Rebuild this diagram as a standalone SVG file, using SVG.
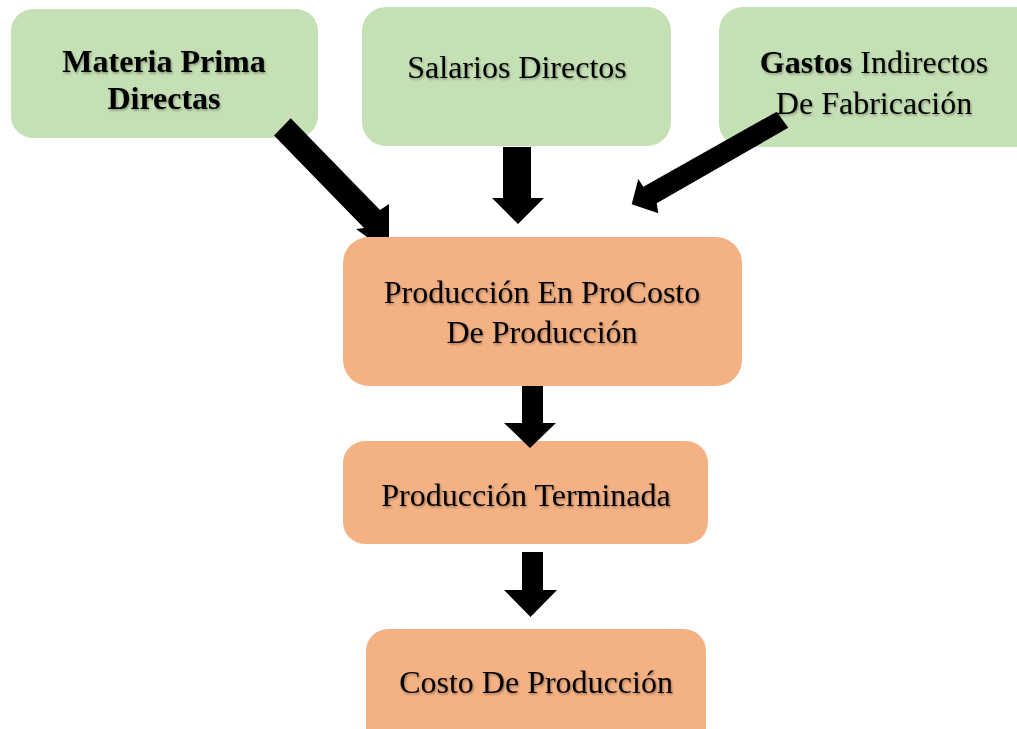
<svg xmlns="http://www.w3.org/2000/svg" width="1017" height="729" viewBox="0 0 1017 729">
<defs>
<filter id="sh" x="-5%" y="-20%" width="110%" height="140%">
<feDropShadow dx="1" dy="1.5" stdDeviation="0.8" flood-color="#000" flood-opacity="0.35"/>
</filter>
<style>
.g{fill:#C5E0B4}
.o{fill:#F4B183}
.t{font-family:"Liberation Serif","Times New Roman",serif;font-size:32px;fill:#000;text-anchor:middle;filter:url(#sh)}
.b{font-weight:bold}
.a{fill:#000}
</style>
</defs>
<rect width="1017" height="729" fill="#fff"/>
<g id="materia">
<rect class="g" x="11" y="9" width="307" height="129" rx="22"/>
<text class="t b" x="164" y="72">Materia Prima</text>
<text class="t b" x="164" y="109">Directas</text>
</g>
<g id="salarios">
<rect class="g" x="362" y="7" width="309" height="139" rx="24"/>
<text class="t" x="517" y="78">Salarios Directos</text>
</g>
<g id="gastos">
<rect class="g" x="719" y="7" width="330" height="140" rx="24"/>
<text class="t" x="874" y="73"><tspan class="b">Gastos</tspan> Indirectos</text>
<text class="t" x="874" y="114">De Fabricación</text>
</g>
<g id="proceso">
<rect class="o" x="343" y="237" width="399" height="149" rx="26"/>
<text class="t" x="542" y="303">Producción En ProCosto</text>
<text class="t" x="542" y="343">De Producción</text>
</g>
<g id="terminada">
<rect class="o" x="343" y="441" width="365" height="103" rx="22"/>
<text class="t" x="526" y="506">Producción Terminada</text>
</g>
<g id="costo">
<rect class="o" x="366" y="629" width="340" height="130" rx="22"/>
<text class="t" x="536" y="693">Costo De Producción</text>
</g>
<g id="connectors">
<polygon class="a" points="290.7,118.3 380,210 389,204 389,237 367,237 356,229 364,228 274,135.5"/>
<polygon class="a" points="503,147 531,147 531,198 544,198 518,224 492,198 503,198"/>
<polygon class="a" points="776.7,111.7 643.3,186.7 638.3,179 631.7,204.3 658.3,213.3 656.7,203.3 788.3,127.7"/>
<polygon class="a" points="522,386 543,386 543,423 556,423 530,448 504,423 522,423"/>
<polygon class="a" points="522,552 543,552 543,590 557,590 530.5,617 504,590 522,590"/>
</g>
</svg>
